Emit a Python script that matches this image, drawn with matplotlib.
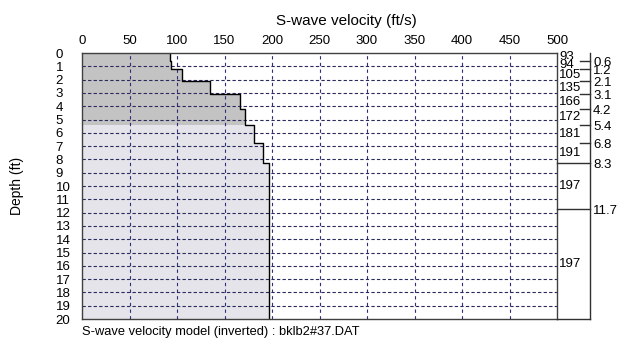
import numpy as np
import matplotlib
matplotlib.use("Agg")
import matplotlib.pyplot as plt
import matplotlib.transforms as mtransforms

plt.rcParams['font.family'] = ['Liberation Sans', 'DejaVu Sans']

# ---- data ----
layer_tops = [0, 0.6, 1.2, 2.1, 3.1, 4.2, 5.4, 6.8, 8.3, 11.7]
layer_bottoms = [0.6, 1.2, 2.1, 3.1, 4.2, 5.4, 6.8, 8.3, 11.7, 20]
velocities = [93, 94, 105, 135, 166, 172, 181, 191, 197, 197]
boundary_labels = ['0.6', '1.2', '2.1', '3.1', '4.2', '5.4', '6.8', '8.3', '11.7']
x_ticks = [0, 50, 100, 150, 200, 250, 300, 350, 400, 450, 500]
y_ticks = list(range(0, 21))
dark_layers = 6  # first six layers shaded darker

W, H = 618, 341
fig = plt.figure(figsize=(W / 100, H / 100), dpi=100)
ax = fig.add_axes([82 / W, 22 / H, 475 / W, 266 / H])

ax.set_xlim(0, 500)
ax.set_ylim(20, 0)

# step profile polygons
def poly(idx):
    ys, xs = [], []
    for i in idx:
        ys += [layer_tops[i], layer_bottoms[i]]
        xs += [velocities[i], velocities[i]]
    return np.array(xs), np.array(ys)

xd, yd = poly(range(0, dark_layers))
ax.fill_betweenx(yd, 0, xd, color='#c3c3c3', lw=0, zorder=1)
xl, yl = poly(range(dark_layers, len(velocities)))
ax.fill_betweenx(yl, 0, xl, color='#e4e4ea', lw=0, zorder=1)
xa, ya = poly(range(len(velocities)))
ax.plot(xa, ya, color='black', lw=1.0, zorder=4)

# grid
gcol = '#2e2e78'
for xv in x_ticks[1:-1]:
    ax.axvline(xv, color=gcol, lw=0.8, ls=(0, (3, 3)), zorder=3)
for yv in y_ticks[1:-1]:
    ax.axhline(yv, color='#2a2a5e', lw=0.8, ls=(0, (3, 2)), zorder=3)

# ticks
ax.xaxis.tick_top()
ax.set_xticks(x_ticks)
ax.set_xticklabels([str(v) for v in x_ticks], fontsize=9.5)
ax.set_yticks(y_ticks)
ax.set_yticklabels([str(v) for v in y_ticks], fontsize=9.5)
ax.tick_params(axis='x', length=0, pad=4)
ax.tick_params(axis='y', length=0, pad=19)
for lab in ax.get_yticklabels():
    lab.set_horizontalalignment('left')
for s in ax.spines.values():
    s.set_color('#404040')
    s.set_linewidth(1.0)
    s.set_zorder(5)

ax.set_ylabel('Depth (ft)', fontsize=10, labelpad=0)
ax.yaxis.set_label_coords(-58 / 475, 0.5)

# right-hand layer column
trans = mtransforms.blended_transform_factory(ax.transAxes, ax.transData)
xr = (590 - 82) / 475
xleft_txt = (559 - 82) / 475
for i, v in enumerate(velocities):
    yc = (layer_tops[i] + layer_bottoms[i]) / 2
    ax.text(xleft_txt, yc, str(v), transform=trans, fontsize=9.5, ha='left', va='center',
            clip_on=False, zorder=6,
            bbox=dict(facecolor='white', edgecolor='none', pad=0.2))
ax.plot([xr, xr], [0, 20], transform=trans, color='#303030', lw=1.0, clip_on=False, zorder=7)
ax.plot([1, xr], [20, 20], transform=trans, color='#303030', lw=1.0, clip_on=False, zorder=7)
for i, lab in enumerate(boundary_labels):
    d = layer_bottoms[i]
    thick_above = (layer_bottoms[i] - layer_tops[i]) >= 1.4
    x0 = 1.0 if thick_above else (580 - 82) / 475
    ax.plot([x0, xr], [d, d], transform=trans, color='#303030', lw=1.0, clip_on=False, zorder=7)
    ax.text(xr + 3 / 475, d + 0.15, lab, transform=trans, fontsize=9.5, ha='left', va='center',
            clip_on=False, zorder=7)

fig.text(346 / W, 1 - 21 / H, 'S-wave velocity (ft/s)', fontsize=11, ha='center', va='center')
fig.text(82 / W, 1 - 332 / H, 'S-wave velocity model (inverted) : bklb2#37.DAT', fontsize=9.3,
         ha='left', va='center')

fig.savefig('out.png', dpi=100)
